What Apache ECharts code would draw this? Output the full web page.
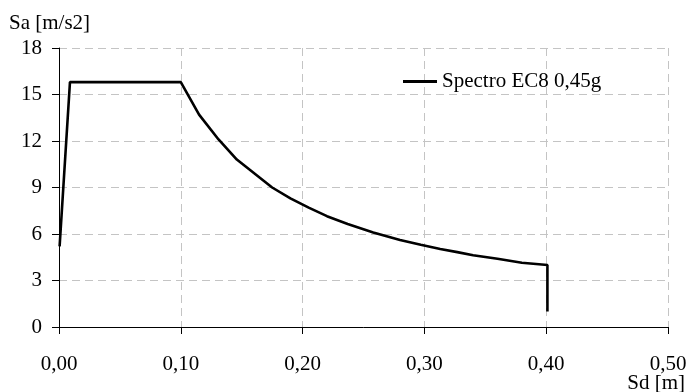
<!DOCTYPE html>
<html>
<head>
<meta charset="utf-8">
<script src="https://cdn.jsdelivr.net/npm/echarts@6/dist/echarts.min.js"></script>
<style>html,body{margin:0;padding:0;background:#fff}#c{width:690px;height:392px}</style>
</head>
<body>
<div id="c"></div>
<script>
const seriesName = 'Spectro EC8 0,45g';
const sd = [0.0005, 0.009, 0.100, 0.115, 0.131, 0.146, 0.175, 0.190, 0.205, 0.220, 0.237, 0.258, 0.280, 0.297, 0.313, 0.327, 0.340, 0.360, 0.380, 0.401, 0.401];
const sa = [5.2, 15.8, 15.8, 13.7, 12.1, 10.8, 9.0, 8.3, 7.7, 7.15, 6.65, 6.1, 5.62, 5.3, 5.03, 4.83, 4.63, 4.4, 4.15, 4.0, 1.0];
const xTicks = [0, 0.5, 0.1];   // min, max, interval
const yTicks = [0, 18, 3];
const xTitle = 'Sd [m]';
const yTitle = 'Sa [m/s2]';

const FONT = '"Liberation Serif", "Times New Roman", serif';
const FS = 21;
const chart = echarts.init(document.getElementById('c'));
const gridLine = { show: true, lineStyle: { color: '#c4c4c4', type: [8, 5], width: 1 } };
chart.setOption({
  animation: false,
  backgroundColor: '#fff',
  textStyle: { fontFamily: FONT },
  grid: { left: 59, right: 22, top: 48, bottom: 65, containLabel: false },
  title: [
    { text: yTitle, left: 9, top: 13, padding: 0, textStyle: { fontFamily: FONT, fontSize: FS, fontWeight: 'normal', color: '#000' } },
    { text: xTitle, right: 5, top: 373, padding: 0, textStyle: { fontFamily: FONT, fontSize: FS, fontWeight: 'normal', color: '#000' } }
  ],
  legend: {
    left: 403, top: 71, padding: 0, itemWidth: 34, itemHeight: 3, itemGap: 0,
    icon: 'rect',
    itemStyle: { color: '#000' },
    textStyle: { fontFamily: FONT, fontSize: FS, color: '#000' },
    data: [seriesName]
  },
  xAxis: {
    type: 'value', min: xTicks[0], max: xTicks[1], interval: xTicks[2],
    axisLine: { show: true, onZero: false, lineStyle: { color: '#000', width: 1 } },
    axisTick: { show: true, length: 7, lineStyle: { color: '#000' } },
    axisLabel: { margin: 27, fontSize: FS, color: '#000', fontFamily: FONT,
      formatter: v => v.toFixed(2).replace('.', ',') },
    splitLine: gridLine
  },
  yAxis: {
    type: 'value', min: yTicks[0], max: yTicks[1], interval: yTicks[2],
    axisLine: { show: true, lineStyle: { color: '#000', width: 1 } },
    axisTick: { show: true, length: 7, lineStyle: { color: '#000' } },
    axisLabel: { margin: 17, fontSize: FS, color: '#000', fontFamily: FONT },
    splitLine: gridLine
  },
  series: [{
    name: seriesName, type: 'line', symbol: 'none',
    lineStyle: { color: '#000', width: 2.6 },
    itemStyle: { color: '#000' },
    data: sd.map((x, i) => [x, sa[i]])
  }]
});
</script>
</body>
</html>
